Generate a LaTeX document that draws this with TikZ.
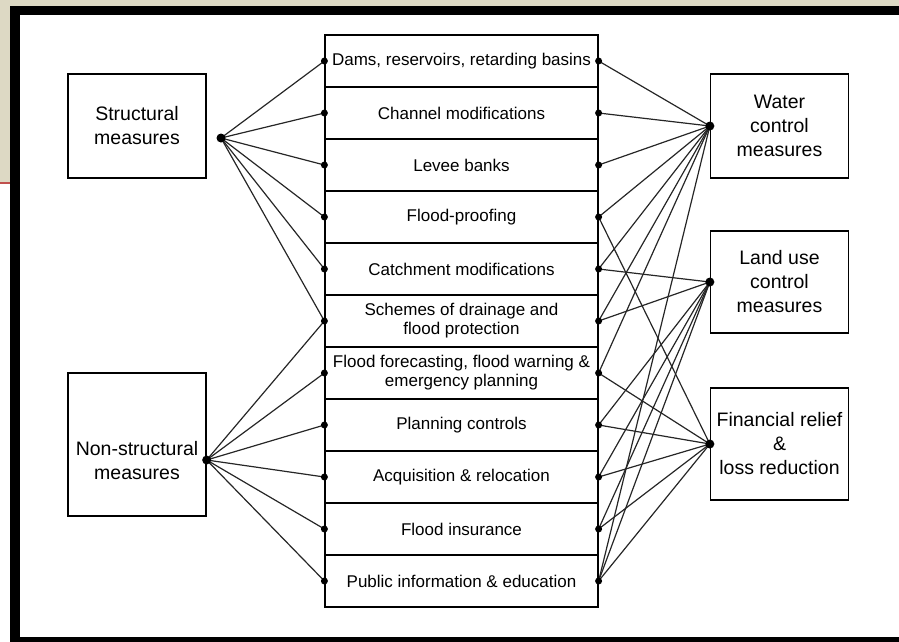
\documentclass[tikz,border=0pt]{standalone}
\usepackage{fontspec}
\setmainfont{Liberation Sans}
\usetikzlibrary{positioning}

\definecolor{slidetan}{RGB}{221,217,196}
\definecolor{slidered}{RGB}{192,80,77}

\tikzset{
    measure/.style={draw, line width=1.3pt, minimum width=138pt, inner sep=0pt, align=center, font=\fontsize{19.5}{24}\selectfont},
    measuretext/.style={align=center, inner sep=0pt, font=\fontsize{19.5}{24}\selectfont},
    rowbox/.style={draw, line width=1.2pt, minimum width=273pt, minimum height=52pt, inner sep=0pt, align=center, font=\fontsize{17}{19}\selectfont},
    link/.style={line width=1.2pt, black!85},
}

\begin{document}
\begin{tikzpicture}[x=1pt,y=-1pt]
        \clip (0,0) rectangle (899,641);

        % slide background and frame
        \fill[slidetan] (0,0) rectangle (899,10);
        \fill[slidetan] (0,0) rectangle (12,182);
        \draw[slidered, line width=2pt] (0,183) -- (10,183);
        \draw[line width=9.5pt] (14.75,10.5) rectangle (915,641.5);

        % outer boxes
        \node[measure, minimum height=104pt] (struct) at (137,126) {Structural\\measures};
        \node[measure, minimum height=143pt] (nonstruct) at (137,444.5) {};
        \node[measuretext] (nonstructtxt) at (137,460.5) {Non-structural\\measures};

        \node[measure, minimum height=104pt] (water) at (779.5,126) {Water\\control\\measures};
        \node[measure, minimum height=102pt] (land) at (779.5,282) {Land use\\control\\measures};
        \node[measure, minimum height=112pt] (fin) at (779.5,444) {Financial relief\\\&\\loss reduction};

        \coordinate (sdot) at (221,138);
        \coordinate (ndot) at ([yshift=-15.5pt]nonstruct.east);

        % the column of measures
        \foreach \txt [count=\i] in {{Dams, reservoirs, retarding basins}, {Channel modifications}, {Levee banks}, {Flood-proofing}, {Catchment modifications}, {Schemes of drainage and\\flood protection}, {Flood forecasting, flood warning \&\\emergency planning}, {Planning controls}, {Acquisition \& relocation}, {Flood insurance}, {Public information \& education}}
        \node[rowbox] (r\i) at (461.5,9+52*\i) {\txt};

        % links
        \foreach \i in {1,...,6}
        \draw[link] (sdot) -- (r\i.west);
        \foreach \i in {6,...,11}
        \draw[link] (ndot) -- (r\i.west);
        \foreach \i in {1,2,3,4,5,6,7,11}
        \draw[link] (water.west) -- (r\i.east);
        \foreach \i in {5,6,8,9,10,11}
        \draw[link] (land.west) -- (r\i.east);
        \foreach \i in {4,7,8,9,10,11}
        \draw[link] (fin.west) -- (r\i.east);

        % dots
        \foreach \i in {1,...,11}
        {
            \fill (r\i.west) circle (3.5pt);
            \fill (r\i.east) circle (3.5pt);
        }
        \foreach \p in {sdot, ndot, water.west, land.west, fin.west}
        \fill (\p) circle (4.5pt);
    \end{tikzpicture}
\end{document}
